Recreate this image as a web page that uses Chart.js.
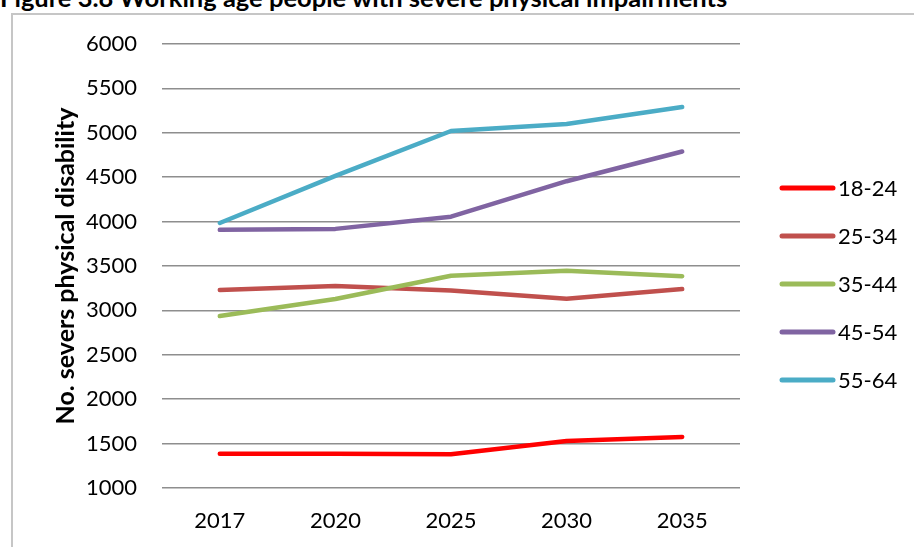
<!DOCTYPE html>
<html>
<head>
<meta charset="utf-8">
<script src="https://cdn.jsdelivr.net/npm/chart.js@4.4.1/dist/chart.umd.min.js"></script>
<style>
    html, body { margin: 0; padding: 0; background: #fff; }
    body { width: 914px; height: 547px; position: relative; overflow: hidden; }
    #caption {
        position: absolute; left: 0; top: -15px;
        font: bold 25.5px/25px Lato, sans-serif; color: #000; white-space: nowrap;
    }
    #frame {
        position: absolute; left: 11px; top: 13px; width: 920px; height: 560px;
        border-left: 2px solid #c6c6c6; border-top: 2px solid #c6c6c6;
    }
    #chart { position: absolute; left: 0; top: 0; }
</style>
</head>
<body>
<div id="caption">Figure 3.8 Working age people with severe physical impairments</div>
<div id="frame"></div>
<canvas id="chart" width="914" height="547"></canvas>
<script>
const years = ['2017', '2020', '2025', '2030', '2035'];
const ageGroups = ['18-24', '25-34', '35-44', '45-54', '55-64'];
const age18to24 = [1387, 1387, 1380, 1530, 1575];
const age25to34 = [3230, 3275, 3225, 3130, 3240];
const age35to44 = [2936, 3128, 3390, 3447, 3385];
const age45to54 = [3907, 3918, 4055, 4455, 4790];
const age55to64 = [3984, 4515, 5020, 5100, 5290];
const colors = ['#FF0000', '#C0504D', '#9BBB59', '#8064A2', '#4BACC6'];

const series = [age18to24, age25to34, age35to44, age45to54, age55to64];

// Legenda desenhada à direita, alinhada como no original
const sideLegend = {
    id: 'sideLegend',
    afterDraw(chart) {
        const ctx = chart.ctx;
        ctx.save();
        chart.data.datasets.forEach((ds, i) => {
            const y = 188 + i * 48;
            ctx.strokeStyle = ds.borderColor;
            ctx.lineWidth = 5;
            ctx.lineCap = 'round';
            ctx.beginPath();
            ctx.moveTo(782, y);
            ctx.lineTo(833, y);
            ctx.stroke();
            ctx.fillStyle = '#000';
            ctx.font = '22px Lato';
            ctx.textBaseline = 'middle';
            ctx.fillText(ds.label, 838, y + 1);
        });
        ctx.restore();
    }
};

new Chart(document.getElementById('chart'), {
    type: 'line',
    data: {
        labels: years,
        datasets: series.map((values, i) => ({
            label: ageGroups[i],
            data: values,
            borderColor: colors[i],
            backgroundColor: colors[i],
            borderWidth: 4.5,
            borderCapStyle: 'round',
            borderJoinStyle: 'round',
            pointRadius: 0,
            tension: 0,
            order: 5 - i
        }))
    },
    options: {
        responsive: false,
        animation: false,
        layout: {
            padding: { left: 46, right: 174, top: 44, bottom: 13 }
        },
        plugins: {
            legend: { display: false },
            tooltip: { enabled: false }
        },
        scales: {
            x: {
                offset: true,
                grid: { display: false, drawTicks: false },
                border: { display: false },
                ticks: {
                    color: '#000',
                    padding: 20,
                    maxRotation: 0,
                    font: { family: 'Lato', size: 22 }
                },
                afterFit: scale => { scale.height = 46; }
            },
            y: {
                min: 1000,
                max: 6000,
                border: { display: false },
                grid: {
                    color: '#8e8e8e',
                    lineWidth: 1.6,
                    drawTicks: false
                },
                ticks: {
                    stepSize: 500,
                    color: '#000',
                    padding: 25,
                    font: { family: 'Lato', size: 22 },
                    callback: v => String(v)
                },
                title: {
                    display: true,
                    text: 'No. severs physical disability',
                    color: '#000',
                    padding: { top: 5, bottom: 5 },
                    font: { family: 'Lato', size: 25, weight: 'bold' }
                },
                afterFit: scale => { scale.width = 116; }
            }
        }
    },
    plugins: [sideLegend]
});
</script>
</body>
</html>
